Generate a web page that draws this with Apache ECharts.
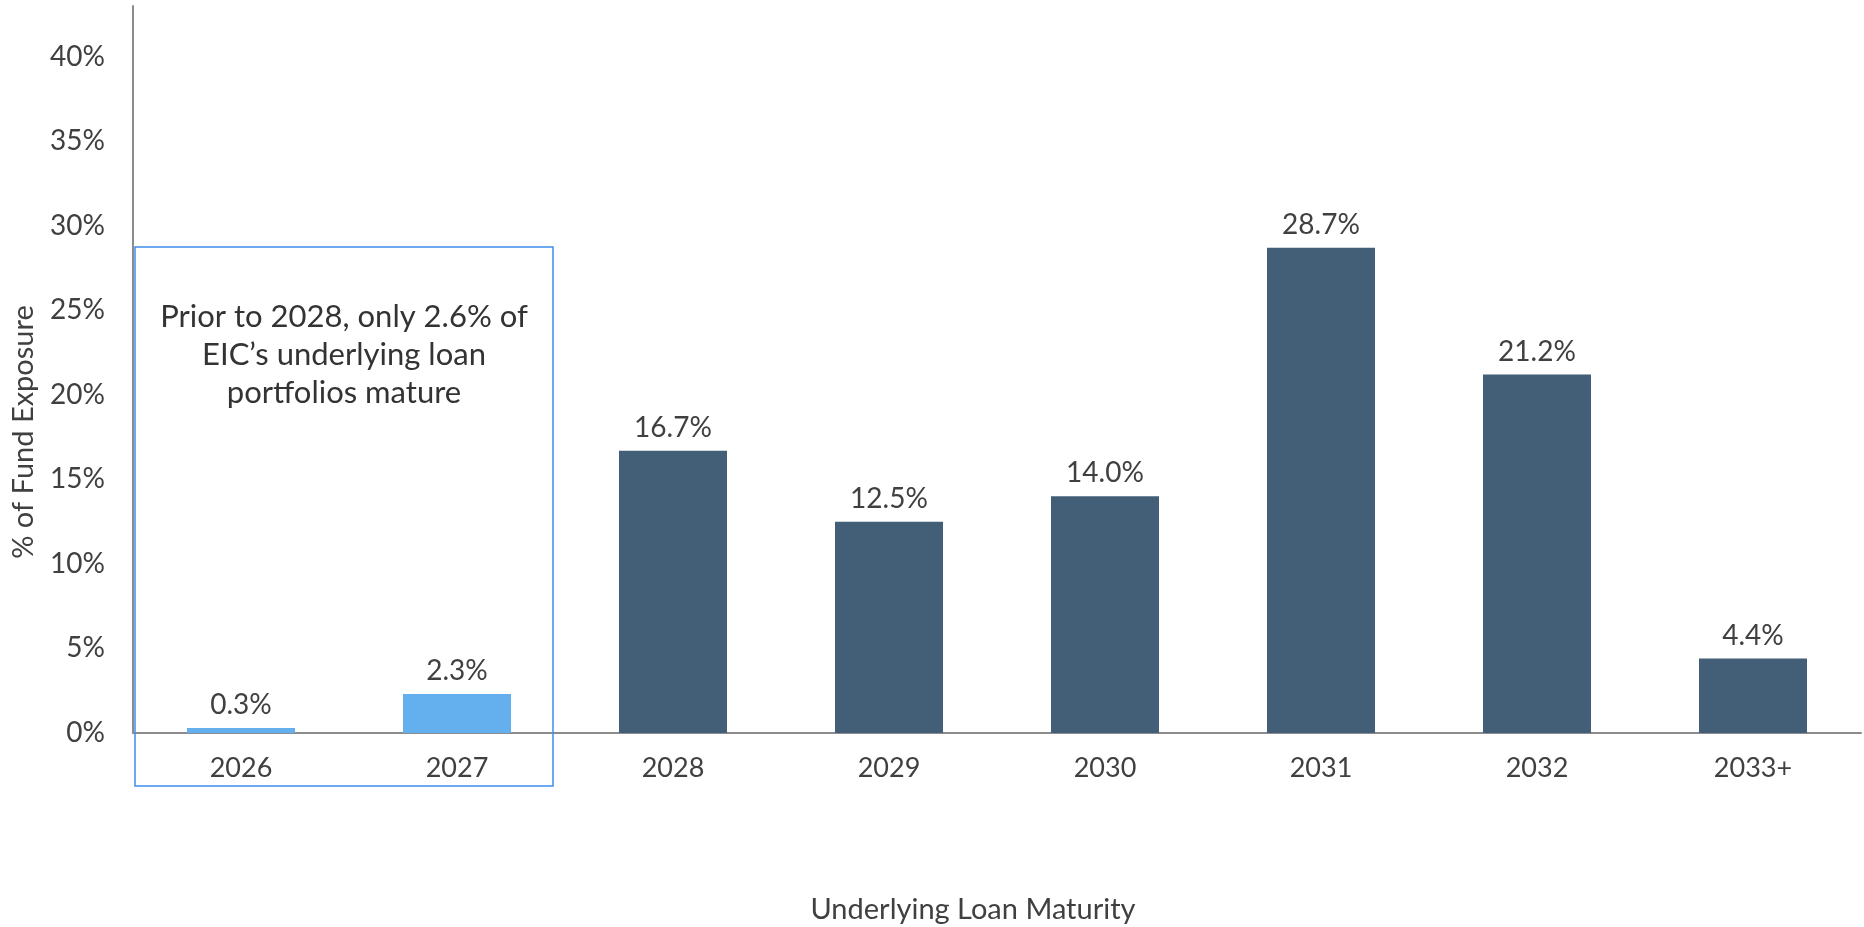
<!DOCTYPE html>
<html>
<head>
<meta charset="utf-8">
<script src="https://cdn.jsdelivr.net/npm/echarts@6/dist/echarts.min.js"></script>
<style>
  html, body { margin: 0; padding: 0; background: #fff; }
  #main { width: 1864px; height: 927px; }
</style>
</head>
<body>
<div id="main"></div>
<script>
const categories = ['2026', '2027', '2028', '2029', '2030', '2031', '2032', '2033+']
const exposure = [0.3, 2.3, 16.7, 12.5, 14.0, 28.7, 21.2, 4.4]
// years before 2028 get the light colour
const highlighted = [true, true, false, false, false, false, false, false]
const yTicks = [0, 5, 10, 15, 20, 25, 30, 35, 40]

const FONT = 'Lato, "Open Sans", sans-serif'
const TEXT = '#404040'

const chart = echarts.init(document.getElementById('main'))
chart.setOption({
  animation: false,
  grid: {
    left: 133,
    right: 3,
    top: 6,
    bottom: 194
  },
  xAxis: {
    type: 'category',
    data: categories,
    axisLine: { lineStyle: { color: '#8c8c8c', width: 2 } },
    axisTick: { show: false },
    axisLabel: {
      color: TEXT,
      fontFamily: FONT,
      fontSize: 27,
      margin: 22
    }
  },
  yAxis: {
    type: 'value',
    min: 0,
    max: 43,
    interval: 5,
    splitLine: { show: false },
    axisTick: { show: false },
    axisLine: { show: true, lineStyle: { color: '#8c8c8c', width: 2 } },
    axisLabel: {
      color: TEXT,
      fontFamily: FONT,
      fontSize: 28,
      margin: 28,
      formatter: function (v) {
        return yTicks.indexOf(v) >= 0 ? v + '%' : ''
      }
    }
  },
  series: [{
    type: 'bar',
    barWidth: '50%',
    data: exposure.map(function (v, i) {
      return {
        value: v,
        itemStyle: { color: highlighted[i] ? '#64AFEE' : '#425F77' }
      }
    }),
    label: {
      show: true,
      position: 'top',
      distance: 9,
      color: TEXT,
      fontFamily: FONT,
      fontSize: 28,
      formatter: function (p) {
        return p.value.toFixed(1) + '%'
      }
    }
  }],
  graphic: [{
    type: 'rect',
    shape: { x: 135, y: 247, width: 418, height: 539 },
    style: { fill: 'none', stroke: '#3f8ef0', lineWidth: 1.5 },
    z: 10
  }, {
    type: 'text',
    x: 344,
    y: 355,
    style: {
      text: 'Prior to 2028, only 2.6% of\nEIC\u2019s underlying loan\nportfolios mature',
      fill: '#333333',
      font: '31px ' + FONT,
      align: 'center',
      verticalAlign: 'middle',
      lineHeight: 38
    },
    z: 10
  }, {
    type: 'text',
    x: 24,
    y: 432,
    rotation: Math.PI / 2,
    style: {
      text: '% of Fund Exposure',
      fill: TEXT,
      font: '29px ' + FONT,
      align: 'center',
      verticalAlign: 'middle'
    }
  }, {
    type: 'text',
    x: 973,
    y: 910,
    style: {
      text: 'Underlying Loan Maturity',
      fill: TEXT,
      font: '29px ' + FONT,
      align: 'center',
      verticalAlign: 'middle'
    }
  }]
})
</script>
</body>
</html>
